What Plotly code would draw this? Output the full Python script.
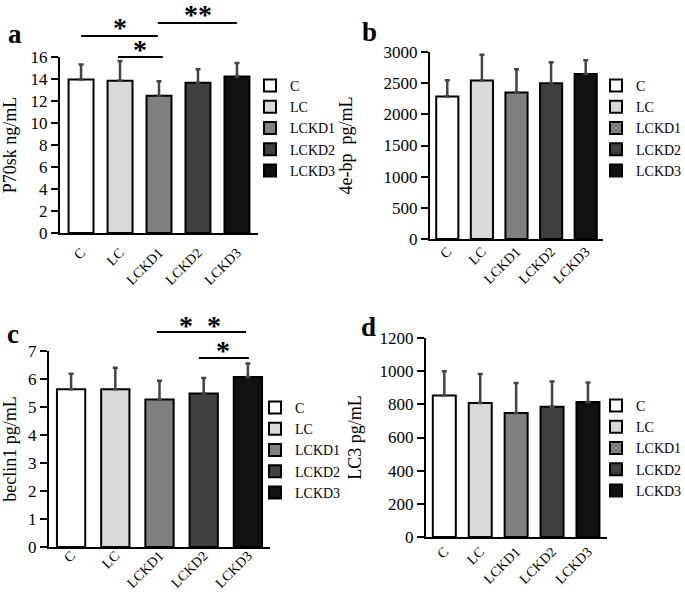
import plotly.graph_objects as go

categories = ["C", "LC", "LCKD1", "LCKD2", "LCKD3"]
colors = ["#ffffff", "#d9d9d9", "#808080", "#404040", "#111111"]

p70sk_mean = [13.95, 13.83, 12.47, 13.65, 14.22]
p70sk_sd = [1.36, 1.81, 1.33, 1.23, 1.24]
ebp_mean = [2285, 2541, 2349, 2498, 2648]
ebp_sd = [261, 416, 373, 336, 218]
beclin_mean = [5.63, 5.63, 5.27, 5.48, 6.07]
beclin_sd = [0.56, 0.77, 0.67, 0.56, 0.48]
lc3_mean = [854, 808, 748, 786, 814]
lc3_sd = [145, 175, 181, 151, 117]

FONT = "Liberation Serif, Times New Roman, serif"
W, H = 685, 599

panels = [
    dict(letter="a", mean=p70sk_mean, sd=p70sk_sd, title="P70sk ng/mL", yr=[0, 16], dt=2,
         xd=(60, 258), yd=(57, 233), xr=[-0.54, 4.54], leg=(250, 70), so=14, lp=(15, 34), ls=4),
    dict(letter="b", mean=ebp_mean, sd=ebp_sd, title="4e-bp  pg/mL", yr=[0, 3000], dt=500,
         xd=(430, 603), yd=(52, 239), xr=[-0.5, 4.5], leg=(596, 70), so=26, lp=(369, 32), ls=-3),
    dict(letter="c", mean=beclin_mean, sd=beclin_sd, title="beclin1 pg/mL", yr=[0, 7], dt=1,
         xd=(49, 270), yd=(351, 547), xr=[-0.5, 4.5], leg=(255, 392), so=14, lp=(13, 334), ls=-7),
    dict(letter="d", mean=lc3_mean, sd=lc3_sd, title="LC3 pg/mL", yr=[0, 1200], dt=200,
         xd=(426, 607), yd=(338, 537), xr=[-0.51, 4.53], leg=(596, 390), so=13, lp=(368, 327), ls=-1),
]

brackets = [
    (0, 0.0, 1.97, 1.119, "*", 1.0, 1.165),
    (0, 0.95, 2.1, 1.0, "*", 1.5, 1.04),
    (0, 1.97, 4.0, 1.193, "**", 3.0, 1.24),
    (2, 1.94, 3.96, 1.097, "*  *", 2.92, 1.128),
    (2, 2.89, 4.02, 0.964, "*", 3.44, 1.002),
]

fig = go.Figure()
layout = dict(
    width=W, height=H, margin=dict(l=0, r=0, t=0, b=0, autoexpand=False),
    paper_bgcolor="white", plot_bgcolor="white", barmode="overlay",
    font=dict(family=FONT, color="black"), showlegend=True,
)
annotations = []
shapes = []

for k, p in enumerate(panels):
    sfx = "" if k == 0 else str(k + 1)
    xa, ya = "x" + sfx, "y" + sfx
    lg = "legend" + sfx
    for i, cat in enumerate(categories):
        fig.add_trace(go.Bar(
            x=[cat], y=[p["mean"][i]], name=cat, width=0.64,
            marker=dict(color=colors[i], line=dict(color="black", width=2)),
            error_y=dict(type="data", symmetric=False, array=[p["sd"][i]], arrayminus=[0],
                         color="#444444", thickness=2.5, width=2.5),
            xaxis=xa, yaxis=ya, legend=lg, showlegend=True,
        ))
    layout["xaxis" + sfx] = dict(
        domain=[p["xd"][0] / W, p["xd"][1] / W], anchor=ya, range=p["xr"],
        categoryorder="array", categoryarray=categories,
        showline=True, linewidth=2, linecolor="black", ticks="", showgrid=False,
        tickangle=-45, tickfont=dict(family=FONT, size=14), ticklabelstandoff=p["ls"],
        fixedrange=True,
    )
    layout["yaxis" + sfx] = dict(
        domain=[1 - p["yd"][1] / H, 1 - p["yd"][0] / H], anchor=xa, range=p["yr"], dtick=p["dt"],
        showline=True, linewidth=2, linecolor="black", ticks="outside", ticklen=7, tickwidth=2,
        tickcolor="black", showgrid=False, zeroline=False, tickfont=dict(family=FONT, size=17),
        title=dict(text=p["title"], font=dict(family=FONT, size=18), standoff=p["so"]),
        fixedrange=True,
    )
    layout[lg] = dict(
        x=p["leg"][0] / W, y=1 - p["leg"][1] / H, xanchor="left", yanchor="top",
        font=dict(family=FONT, size=14, color="black"), bgcolor="rgba(0,0,0,0)",
        tracegroupgap=0, itemclick=False, itemdoubleclick=False,
    )
    annotations.append(dict(
        text="<b>" + p["letter"] + "</b>", x=p["lp"][0] / W, y=1 - p["lp"][1] / H,
        xref="paper", yref="paper", showarrow=False, xanchor="center", yanchor="middle",
        font=dict(family=FONT, size=27, color="black"),
    ))

for (k, x0, x1, yy, lab, lx, ly) in brackets:
    p = panels[k]
    sfx = "" if k == 0 else str(k + 1)
    r0, r1 = p["xr"]
    shapes.append(dict(
        type="line", xref="x" + sfx + " domain", yref="y" + sfx + " domain",
        x0=(x0 - r0) / (r1 - r0), x1=(x1 - r0) / (r1 - r0), y0=yy, y1=yy,
        line=dict(color="black", width=2),
    ))
    annotations.append(dict(
        text="<b>" + lab + "</b>", xref="x" + sfx + " domain", yref="y" + sfx + " domain",
        x=(lx - r0) / (r1 - r0), y=ly, showarrow=False, xanchor="center", yanchor="middle",
        font=dict(family=FONT, size=28, color="black"),
    ))

layout["annotations"] = annotations
layout["shapes"] = shapes
fig.update_layout(**layout)
fig.write_html("out.html", config={"displayModeBar": False},
               post_script="document.body.style.margin='0px';")
